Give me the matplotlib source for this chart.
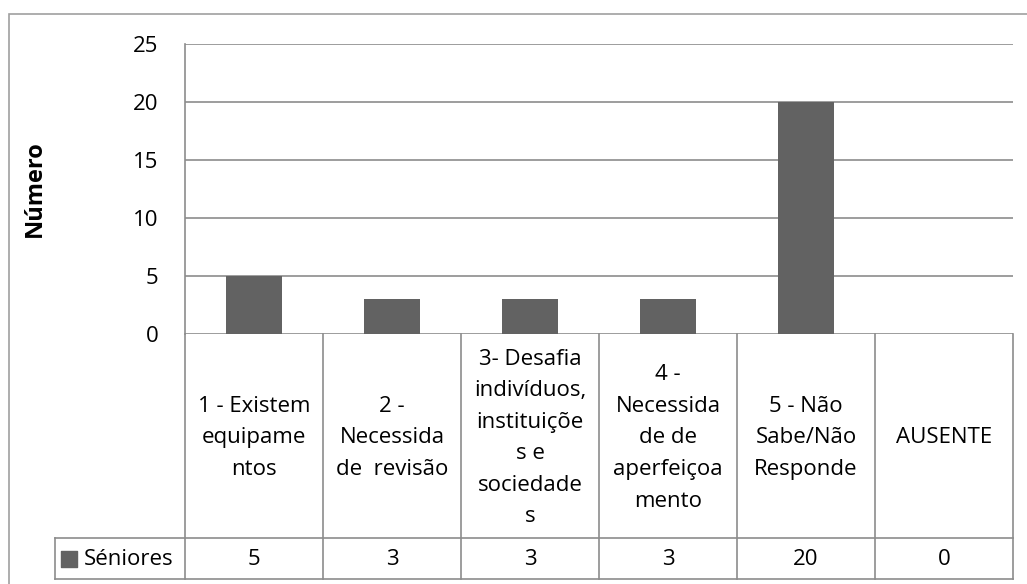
import matplotlib.pyplot as plt
from matplotlib.patches import Rectangle

plt.rcParams['font.family'] = ['Open Sans', 'DejaVu Sans']

# Dados
categorias = ["1 - Existem\nequipame\nntos",
              "2 -\nNecessida\nde  revisão",
              "3- Desafia\nindivíduos,\ninstituiçõe\ns e\nsociedade\ns",
              "4 -\nNecessida\nde de\naperfeiçoa\nmento",
              "5 - Não\nSabe/Não\nResponde",
              "AUSENTE"]
valores = [5, 3, 3, 3, 20, 0]
serie = "Séniores"
yticks = [0, 5, 10, 15, 20, 25]

W, H = 1027, 584
cor_barra = "#626262"
cor_linha = "#8c8c8c"
fs = 16

fig = plt.figure(figsize=(W / 100, H / 100), dpi=100)

# moldura exterior (como no Excel)
fig.patches.append(Rectangle((9 / W, -0.1), 1.2, (H - 14) / H + 0.1,
                             transform=fig.transFigure, fill=False,
                             edgecolor="#a0a0a0", linewidth=1.2))

# área do gráfico
x0, x1 = 185, 1013
ax = fig.add_axes([x0 / W, (H - 334) / H, (x1 - x0) / W, 290 / H])
n = len(valores)
ax.bar(range(n), valores, width=0.4, color=cor_barra, zorder=3)
ax.set_xlim(-0.5, n - 0.5)
ax.set_ylim(0, 25)
ax.set_yticks(yticks)
ax.set_xticks([])
ax.grid(axis="y", color=cor_linha, linewidth=1.2, zorder=0)
for s in ["top", "right", "bottom"]:
    ax.spines[s].set_visible(False)
ax.spines["left"].set_color(cor_linha)
ax.spines["left"].set_linewidth(1.2)
ax.tick_params(axis="y", length=0, labelsize=fs, pad=19)
ax.set_ylabel("Número", fontsize=17, fontweight="bold")
ax.yaxis.set_label_coords(-0.167, 0.5)

# tabela de dados
t0, tb, tr = 334, 579, 538
leg_l = 55
col_w = (x1 - x0) / n
xl = -0.5 - (x0 - leg_l) / col_w
axt = fig.add_axes([leg_l / W, (H - tb) / H, (x1 - leg_l) / W, (tb - t0) / H])
axt.set_xlim(xl, n - 0.5)
axt.set_ylim(tb, t0)
axt.axis("off")
lk = dict(color=cor_linha, linewidth=1.2, clip_on=False)
for i in range(n + 1):
    axt.plot([i - 0.5, i - 0.5], [t0, tb], **lk)
axt.plot([xl, xl], [tr, tb], **lk)
axt.plot([xl, n - 0.5], [tr, tr], **lk)
axt.plot([xl, n - 0.5], [tb, tb], **lk)
for i, (c, v) in enumerate(zip(categorias, valores)):
    axt.text(i, (t0 + tr) / 2 + 2, c, ha="center", va="center", fontsize=fs,
             linespacing=1.66)
    axt.text(i, (tr + tb) / 2 + 1, str(v), ha="center", va="center", fontsize=fs)

# legenda na tabela
axt.scatter([xl + 0.1], [(tr + tb) / 2 + 1], marker="s", s=120, color=cor_barra,
            clip_on=False)
axt.text(xl + 0.21, (tr + tb) / 2 + 1, serie, ha="left", va="center", fontsize=fs)

fig.savefig("out.png", dpi=100)
